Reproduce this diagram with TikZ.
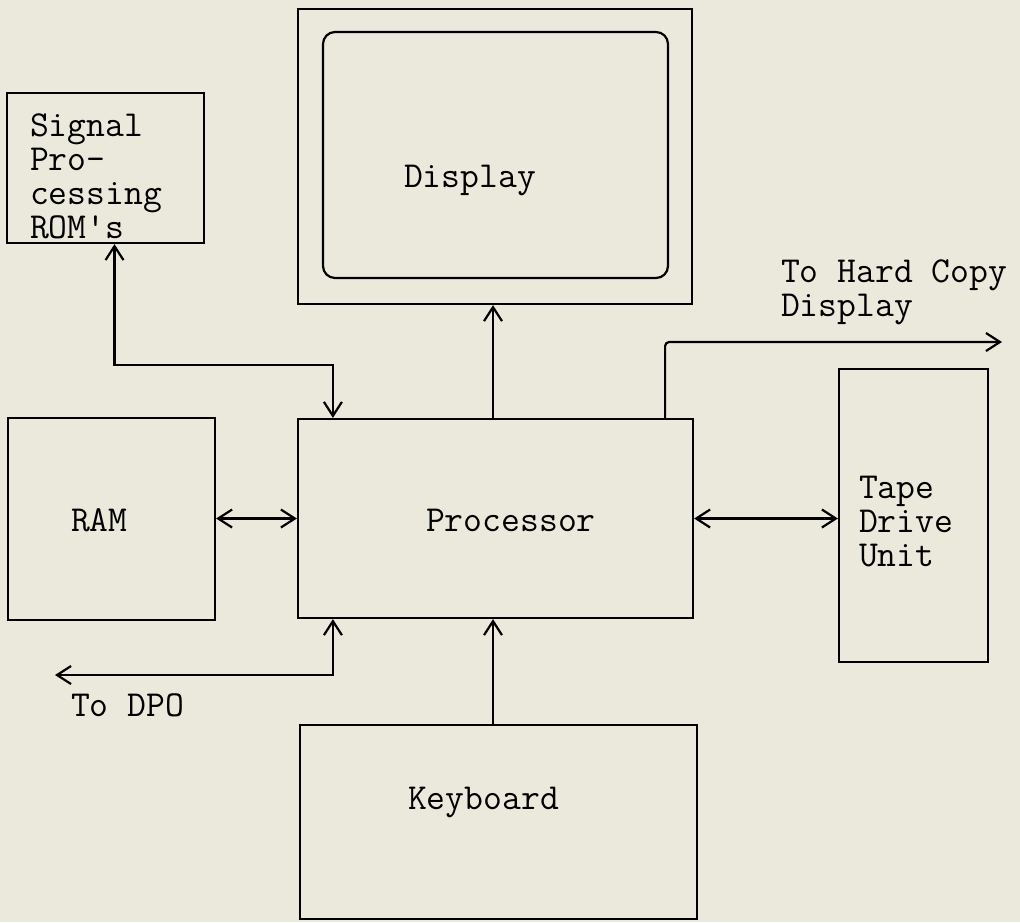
\documentclass[tikz,border=0pt]{standalone}
\usetikzlibrary{arrows.meta,calc,fit}
\definecolor{paper}{RGB}{234,233,220}

\begin{document}
\begin{tikzpicture}[x=0.5pt,y=-0.5pt,line width=1.1pt,
    >={Straight Barb[length=7pt,width=9pt]},
    box/.style={draw,inner sep=0pt},
    txt/.style={inner sep=0pt,align=left,font=\ttfamily\fontsize{18.3}{17}\selectfont}]
  \fill[paper] (0,0) rectangle (1020,922);
  \useasboundingbox (0,0) rectangle (1020,922);
  % blocks
  \node[box,fit={(7,93) (204,243)}] (rom) {};
  \node[box,fit={(298,9) (692,304)}] (scr) {};
  \node[box,fit={(323,32) (668,278)},rounded corners=6pt] (scrin) {};
  \node[box,fit={(8,418) (215,620)}] (ram) {};
  \node[box,fit={(298,419) (693,618)}] (proc) {};
  \node[box,fit={(839,369) (988,662)}] (tape) {};
  \node[box,fit={(300,725) (697,919)}] (kbd) {};
  % labels
  \node[txt,anchor=north west] (romtxt) at (29,113) {Signal\\Pro-\\cessing\\ROM's};
  \node[txt,anchor=base west] (scrtxt) at (403,187) {Display};
  \node[txt,anchor=base west] (proctxt) at (425,531) {Processor};
  \node[txt,anchor=base west] (ramtxt) at (70,531) {RAM};
  \node[txt,anchor=base west] (kbdtxt) at (407,809) {Keyboard};
  \node[txt,anchor=north west] (tapetxt) at (858,475) {Tape\\Drive\\Unit};
  \node[txt,anchor=north west] (hctxt) at (780,259) {To Hard Copy\\Display};
  \node[txt,anchor=north west] (dpotxt) at (70,693) {To DPO};
  % links
  \coordinate (mid) at (493,0);
  \coordinate (hc) at (1002,342);
  \coordinate (dpo) at (55,675);
  \draw[<->] ($(rom.south)+(9,0)$) |- ($(proc.north west)+(36,-53)$)
    -- ($(proc.north west)+(36,0)$);
  \draw[->] (proc.north -| mid) -- (scr.south -| mid);
  \draw[->,rounded corners=2pt] ($(proc.north east)+(-29,0)$) |- (hc);
  \draw[<->] (ram.east |- proc.west) -- (proc.west);
  \draw[<->] (proc.east) -- (tape.west |- proc.east);
  \draw[<->] ($(proc.south west)+(36,0)$) |- (dpo);
  \draw[->] (kbd.north -| mid) -- (proc.south -| mid);
\end{tikzpicture}
\end{document}
